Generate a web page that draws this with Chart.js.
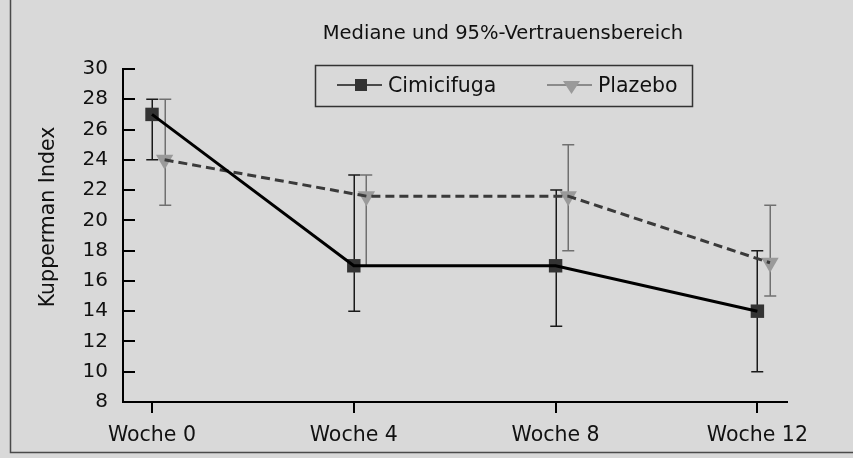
<!DOCTYPE html>
<html><head><meta charset="utf-8">
<script src="https://cdn.jsdelivr.net/npm/chart.js@4.4.1/dist/chart.umd.min.js"></script>
<style>html,body{margin:0;padding:0;background:#d9d9d9;} canvas{display:block}</style>
</head><body>
<div style="width:853px;height:458px;position:relative"><canvas id="c" width="853" height="458"></canvas></div>
<script>
// ---- data ----
const categories = ['Woche 0', 'Woche 4', 'Woche 8', 'Woche 12'];
const weeks = [0, 4, 8, 12];
const seriesNames = ['Cimicifuga', 'Plazebo'];
const cimiMedian = [27, 17, 17, 14];
const cimiLower  = [24, 14, 13, 10];
const cimiUpper  = [28, 23, 22, 18];
const plazMedian = [24, 21.6, 21.6, 17.2];
const plazLower  = [21, 17, 18, 15];
const plazUpper  = [28, 23, 25, 21];
const yTickValues = [8, 10, 12, 14, 16, 18, 20, 22, 24, 26, 28, 30];
const chartTitle = 'Mediane und 95%-Vertrauensbereich';
const yAxisTitle = 'Kupperman Index';

// ---- styles ----
const FONT = '"DejaVu Sans", sans-serif';
const BG = '#d9d9d9';
const plazOffset = 0.25; // slight horizontal shift of the Plazebo series
const cimiStyle = { line: '#000000', marker: '#333333', bar: '#1a1a1a' };
const plazStyle = { line: '#3a3a3a', marker: '#9a9a9a', bar: '#707070' };

const cimiPts = weeks.map((w, i) => ({ x: w, y: cimiMedian[i] }));
const plazPts = weeks.map((w, i) => ({ x: w + plazOffset, y: plazMedian[i] }));

const series = [
  { name: seriesNames[0], xs: weeks.map(w => w), lo: cimiLower, hi: cimiUpper, color: cimiStyle.bar },
  { name: seriesNames[1], xs: weeks.map(w => w + plazOffset), lo: plazLower, hi: plazUpper, color: plazStyle.bar }
];

const decor = {
  id: 'decor',
  beforeDraw(chart) {
    const ctx = chart.ctx;
    ctx.save();
    ctx.fillStyle = BG;
    ctx.fillRect(0, 0, chart.width, chart.height);
    ctx.strokeStyle = '#4a4a4a';
    ctx.lineWidth = 1.5;
    ctx.beginPath();
    ctx.moveTo(10.5, 0);
    ctx.lineTo(10.5, 452.5);
    ctx.lineTo(chart.width, 452.5);
    ctx.stroke();
    ctx.restore();
  },
  beforeDatasetsDraw(chart) {
    const ctx = chart.ctx;
    const xs = chart.scales.x, ys = chart.scales.y;
    ctx.save();
    // error bars
    series.forEach(s => {
      ctx.strokeStyle = s.color;
      ctx.lineWidth = 1.5;
      s.xs.forEach((xv, i) => {
        const px = Math.round(xs.getPixelForValue(xv)) + 0.25;
        const pt = ys.getPixelForValue(s.hi[i]);
        const pb = ys.getPixelForValue(s.lo[i]);
        ctx.beginPath();
        ctx.moveTo(px, pt); ctx.lineTo(px, pb);
        ctx.moveTo(px - 6, pt); ctx.lineTo(px + 6, pt);
        ctx.moveTo(px - 6, pb); ctx.lineTo(px + 6, pb);
        ctx.stroke();
      });
    });
    ctx.restore();
  },
  afterDraw(chart) {
    const ctx = chart.ctx;
    const ys = chart.scales.y;
    const area = chart.chartArea;
    ctx.save();
    // inward y ticks
    ctx.strokeStyle = '#000';
    ctx.lineWidth = 2;
    ys.ticks.forEach(t => {
      const py = Math.round(ys.getPixelForValue(t.value));
      ctx.beginPath();
      ctx.moveTo(area.left, py);
      ctx.lineTo(area.left + 12, py);
      ctx.stroke();
    });
    // title
    ctx.fillStyle = '#111';
    ctx.font = '19.5px ' + FONT;
    ctx.textAlign = 'center';
    ctx.textBaseline = 'alphabetic';
    ctx.fillText(chartTitle, 503, 39);
    // y axis title
    ctx.save();
    ctx.translate(54, 217);
    ctx.rotate(-Math.PI / 2);
    ctx.font = '20.5px ' + FONT;
    ctx.fillText(yAxisTitle, 0, 0);
    ctx.restore();
    // legend
    ctx.strokeStyle = '#333';
    ctx.lineWidth = 1.5;
    ctx.strokeRect(315.5, 65.5, 377, 41);
    const ly = 85;
    // Cimicifuga
    ctx.strokeStyle = cimiStyle.bar; ctx.lineWidth = 1.5;
    ctx.beginPath(); ctx.moveTo(337, ly); ctx.lineTo(382, ly); ctx.stroke();
    ctx.fillStyle = cimiStyle.marker;
    ctx.fillRect(355, ly - 6, 12, 12);
    ctx.fillStyle = '#111';
    ctx.font = '20.5px ' + FONT;
    ctx.textAlign = 'left';
    ctx.fillText(seriesNames[0], 388, 92);
    // Plazebo
    ctx.strokeStyle = plazStyle.bar; ctx.lineWidth = 1.5;
    ctx.beginPath(); ctx.moveTo(547, ly); ctx.lineTo(592, ly); ctx.stroke();
    ctx.fillStyle = plazStyle.marker;
    ctx.beginPath();
    ctx.moveTo(563, ly - 4); ctx.lineTo(580, ly - 4); ctx.lineTo(571.5, ly + 9); ctx.closePath();
    ctx.fill();
    ctx.fillStyle = '#111';
    ctx.fillText(seriesNames[1], 598, 92);
    ctx.restore();
  }
};

new Chart(document.getElementById('c'), {
  type: 'line',
  data: {
    datasets: [
      { label: seriesNames[0] + ' line', data: cimiPts, borderColor: cimiStyle.line, borderWidth: 3,
        pointRadius: 0, fill: false, tension: 0 },
      { label: seriesNames[1] + ' line', data: plazPts, borderColor: plazStyle.line, borderWidth: 3,
        borderDash: [9, 5], pointRadius: 0, fill: false, tension: 0 },
      { label: seriesNames[0], data: cimiPts, showLine: false, pointStyle: 'rect', pointRadius: 9.5,
        pointBackgroundColor: cimiStyle.marker, pointBorderColor: cimiStyle.marker, pointBorderWidth: 0 },
      { label: seriesNames[1], data: plazPts, showLine: false, pointStyle: 'triangle', pointRotation: 180,
        pointRadius: 10, pointBackgroundColor: plazStyle.marker, pointBorderColor: plazStyle.marker, pointBorderWidth: 0 }
    ]
  },
  options: {
    responsive: false,
    animation: false,
    events: [],
    layout: { padding: { left: 0, top: 69, right: 66, bottom: 0 } },
    plugins: { legend: { display: false }, tooltip: { enabled: false }, title: { display: false } },
    scales: {
      x: {
        type: 'linear',
        min: -0.575, max: 12.587,
        afterFit: s => { s.height = 56; },
        afterBuildTicks: s => { s.ticks = weeks.map(v => ({ value: v })); },
        ticks: {
          callback: v => categories[weeks.indexOf(v)],
          color: '#111', font: { family: FONT, size: 20.5 }, padding: 10, maxRotation: 0, autoSkip: false
        },
        grid: { drawOnChartArea: false, drawTicks: true, tickLength: 11, color: '#000', lineWidth: 2 },
        border: { display: true, color: '#000', width: 2 }
      },
      y: {
        min: 8, max: 30,
        afterFit: s => { s.width = 123; },
        afterBuildTicks: s => { s.ticks = yTickValues.map(v => ({ value: v })); },
        ticks: { color: '#111', font: { family: FONT, size: 20 }, padding: 7 },
        grid: { display: false },
        border: { display: true, color: '#000', width: 2 }
      }
    }
  },
  plugins: [decor]
});
</script>
</body></html>
